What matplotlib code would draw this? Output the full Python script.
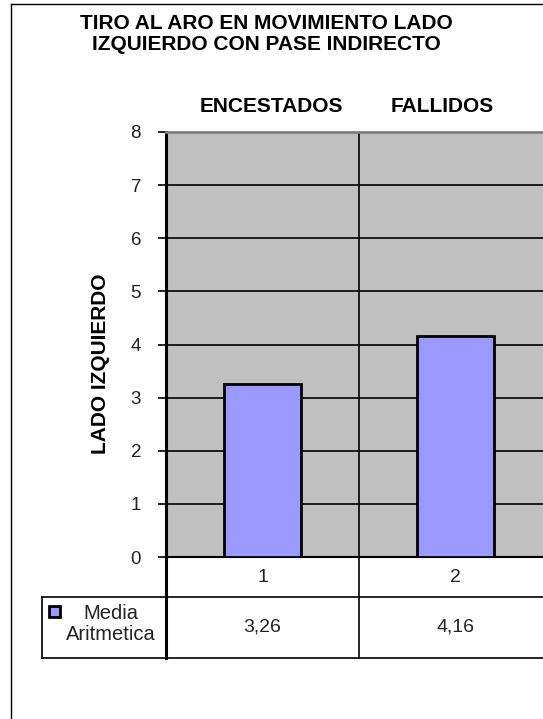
import matplotlib.pyplot as plt
from matplotlib.lines import Line2D
from matplotlib.patches import Rectangle
import matplotlib.transforms as mtransforms

# datos
categorias = ['ENCESTADOS', 'FALLIDOS']
numeros = ['1', '2']
media = [3.26, 4.16]
serie = 'Media\nAritmetica'
titulo = 'TIRO AL ARO EN MOVIMIENTO LADO\nIZQUIERDO CON PASE INDIRECTO'
etiqueta_y = 'LADO IZQUIERDO'

plt.rcParams['font.family'] = ['Liberation Sans', 'DejaVu Sans']

W, H = 543, 719
fig = plt.figure(figsize=(W / 100, H / 100), dpi=100)

def fx(px):
    return px / W

def fy(py):
    return 1 - py / H

# borde exterior (solo izquierda y arriba visibles)
fig.add_artist(Line2D([fx(11), fx(11)], [fy(4), fy(719)], color='black', lw=1))
fig.add_artist(Line2D([fx(11), fx(543)], [fy(4), fy(4)], color='black', lw=1))

# area del grafico
x0, x1, y_top, y_bot = 166, 552, 132, 557
ax = fig.add_axes([fx(x0), fy(y_bot), fx(x1 - x0), (y_bot - y_top) / H])
ax.set_facecolor('#C0C0C0')

x = list(range(len(media)))
ax.bar(x, media, width=0.4, color='#9999FF', edgecolor='black', linewidth=2, zorder=3)
ax.set_xlim(-0.5, len(media) - 0.5)
ax.set_ylim(0, 8)
ax.set_yticks(range(0, 9))
ax.yaxis.grid(True, color='black', lw=1.2)
ax.set_axisbelow(True)
for k in range(1, len(media)):
    ax.axvline(k - 0.5, color='black', lw=1.2, zorder=1)

ax.set_xticks([])
ax.tick_params(axis='y', length=6, width=1.2, labelsize=13.5, pad=12)
for lab in ax.get_yticklabels():
    lab.set_color('#222222')
ax.spines['top'].set_color('#808080')
ax.spines['top'].set_linewidth(2)
ax.spines['right'].set_visible(False)
ax.spines['left'].set_linewidth(2.2)
ax.spines['bottom'].set_linewidth(1.5)

# etiqueta del eje y
fig.text(fx(100), fy(364), etiqueta_y, rotation=90, ha='center', va='center',
         fontsize=15, fontweight='bold')

# titulos de categoria arriba
for c, cx in zip(categorias, [271, 442]):
    fig.text(fx(cx), fy(106), c, ha='center', va='center', fontsize=15,
             fontweight='bold')

fig.text(fx(266), fy(34), titulo, ha='center', va='center', fontsize=15,
         fontweight='bold', linespacing=1.15)

# tabla de datos debajo del eje
trans = mtransforms.blended_transform_factory(ax.transData, ax.transAxes)
ph = y_bot - y_top
r1 = -(597 - y_bot) / ph
r2 = -(658 - y_bot) / ph
kw = dict(transform=trans, clip_on=False, color='black')
ax.add_line(Line2D([-0.5, 1.6], [r1, r1], lw=1.2, **kw))
ax.add_line(Line2D([-0.5, 1.6], [r2, r2], lw=1.2, **kw))
ax.add_line(Line2D([-0.5, -0.5], [0, r2], lw=2.2, **kw))
for k in range(1, len(media)):
    ax.add_line(Line2D([k - 0.5, k - 0.5], [0, r2], lw=1.2, **kw))
for i, (n, v) in enumerate(zip(numeros, media)):
    ax.text(i, r1 / 2, n, transform=trans, ha='center', va='center', fontsize=14,
            color='#222222')
    ax.text(i, (r1 + r2) / 2, f'{v:.2f}'.replace('.', ','), transform=trans,
            ha='center', va='center', fontsize=14, color='#222222')

# celda de leyenda
fig.add_artist(Line2D([fx(42), fx(166)], [fy(597), fy(597)], color='black', lw=1.2))
fig.add_artist(Line2D([fx(42), fx(166)], [fy(658), fy(658)], color='black', lw=1.2))
fig.add_artist(Line2D([fx(42), fx(42)], [fy(597), fy(658)], color='black', lw=1.2))
fig.add_artist(Rectangle((fx(49), fy(617)), fx(11), 11 / H, facecolor='#9999FF',
                         edgecolor='black', lw=2))
fig.text(fx(111), fy(624), serie, ha='center', va='center', fontsize=14.5,
         color='#222222', linespacing=1.1, multialignment='center')

fig.savefig('out.png', dpi=100)
